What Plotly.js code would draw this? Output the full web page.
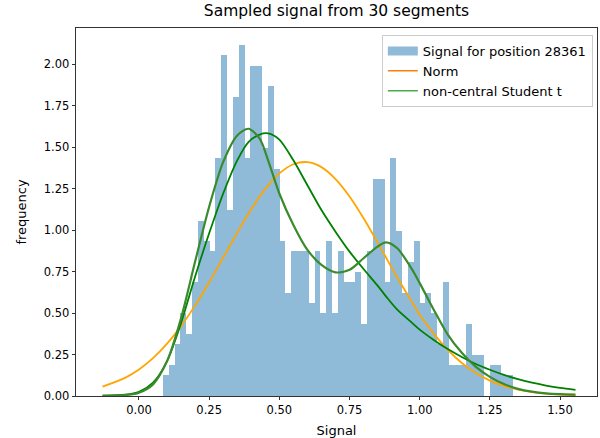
<!DOCTYPE html>
<html>
<head>
<meta charset="utf-8">
<script src="https://cdn.plot.ly/plotly-3.0.1.min.js"></script>
<style>html,body{margin:0;padding:0;background:#fff;}#chart{width:600px;height:438px;}</style>
</head>
<body>
<div id="chart"></div>
<script>
// Histogram: 60 bins (density values)
const binStart = 0.0855;
const binWidth = 0.02078;
const histHeights = [
  0.124, 0.187, 0.311, 0.498, 0.373, 0.684, 1.057, 0.933, 0.871, 1.431,
  2.053, 1.120, 1.804, 2.115, 1.431, 1.990, 1.990, 1.493, 1.866, 1.368,
  0.933, 0.622, 0.871, 0.871, 0.871, 0.560, 0.871, 0.498, 0.933, 0.498,
  0.871, 0.684, 0.684, 0.746, 0.435, 0.871, 1.306, 1.306, 0.684, 1.431,
  0.995, 0.622, 0.809, 0.933, 0.560, 0.622, 0.498, 0.311, 0.684, 0.187,
  0.187, 0.187, 0.435, 0.249, 0.249, 0.000, 0.187, 0.187, 0.124, 0.124
];

// Fitted curves sampled on a common x grid
const curveX = [-0.13, -0.05, 0.00, 0.05, 0.10, 0.15, 0.20, 0.25, 0.30, 0.35, 0.39, 0.43,
  0.46, 0.50, 0.55, 0.60, 0.65, 0.70, 0.75, 0.80, 0.85, 0.88, 0.92, 0.97, 1.00, 1.05,
  1.10, 1.15, 1.20, 1.25, 1.30, 1.35, 1.40, 1.45, 1.50, 1.555];
const normY = [0.056, 0.109, 0.160, 0.228, 0.315, 0.421, 0.546, 0.685, 0.834, 0.984, 1.098, 1.202,
  1.269, 1.341, 1.396, 1.409, 1.379, 1.307, 1.202, 1.071, 0.925, 0.834, 0.714, 0.573, 0.490, 0.376,
  0.278, 0.199, 0.138, 0.093, 0.061, 0.038, 0.024, 0.014, 0.008, 0.004];
const nctY = [0.002, 0.008, 0.025, 0.080, 0.210, 0.440, 0.720, 0.980, 1.220, 1.420, 1.530, 1.575,
  1.582, 1.545, 1.420, 1.270, 1.120, 0.990, 0.870, 0.765, 0.665, 0.600, 0.520, 0.445, 0.400, 0.338,
  0.283, 0.235, 0.193, 0.158, 0.127, 0.101, 0.080, 0.063, 0.049, 0.037];
const mixY = [0.001, 0.005, 0.020, 0.070, 0.210, 0.470, 0.810, 1.140, 1.410, 1.570, 1.610, 1.550,
  1.420, 1.220, 1.030, 0.880, 0.790, 0.745, 0.760, 0.830, 0.900, 0.925, 0.890, 0.770, 0.680, 0.520,
  0.370, 0.260, 0.175, 0.115, 0.072, 0.043, 0.026, 0.016, 0.011, 0.008];

const legendLabels = ['Signal for position 28361', 'Norm', 'non-central Student t'];
const xTicks = [0.00, 0.25, 0.50, 0.75, 1.00, 1.25, 1.50];
const yTicks = [0.00, 0.25, 0.50, 0.75, 1.00, 1.25, 1.50, 1.75, 2.00];

const binCenters = histHeights.map((_, i) => binStart + binWidth * (i + 0.5));
const FF = 'DejaVu Sans, sans-serif';

const traces = [
  {type: 'bar', x: binCenters, y: histHeights, width: binWidth,
   marker: {color: 'rgba(31,119,180,0.5)', line: {width: 0}},
   showlegend: false, hoverinfo: 'skip'},
  {type: 'scatter', mode: 'lines', x: curveX, y: normY,
   line: {color: '#FFA500', width: 1.8, shape: 'spline', smoothing: 0.8},
   showlegend: false, hoverinfo: 'skip'},
  {type: 'scatter', mode: 'lines', x: curveX, y: nctY,
   line: {color: '#008000', width: 1.8, shape: 'spline', smoothing: 0.8},
   showlegend: false, hoverinfo: 'skip'},
  {type: 'scatter', mode: 'lines', x: curveX, y: mixY,
   line: {color: '#3a8b2c', width: 2.2, shape: 'spline', smoothing: 0.8},
   showlegend: false, hoverinfo: 'skip'},
  // legend handles
  {type: 'scatter', mode: 'lines', x: [null], y: [null],
   line: {color: 'rgba(31,119,180,0.5)', width: 9}, name: legendLabels[0]},
  {type: 'scatter', mode: 'lines', x: [null], y: [null],
   line: {color: '#ff7f0e', width: 1.5}, name: legendLabels[1]},
  {type: 'scatter', mode: 'lines', x: [null], y: [null],
   line: {color: '#4caa4c', width: 1.5}, name: legendLabels[2]}
];

const tickFont = {family: FF, size: 11.5, color: '#000'};
const labelFont = {family: FF, size: 13, color: '#000'};
const layout = {
  width: 600, height: 438,
  margin: {l: 76, r: 3, t: 28, b: 42},
  paper_bgcolor: '#fff', plot_bgcolor: '#fff',
  font: tickFont,
  bargap: 0,
  title: {text: 'Sampled signal from 30 segments', font: {family: FF, size: 15.5, color: '#000'},
          x: 0.5, xref: 'paper', xanchor: 'center', y: 1, yref: 'container', yanchor: 'top', pad: {t: 5}},
  xaxis: {range: [-0.2244, 1.6316], tickvals: xTicks, ticktext: xTicks.map(v => v.toFixed(2)),
          ticks: 'outside', ticklen: 3.5, tickwidth: 0.8, tickcolor: '#000',
          showline: true, linecolor: '#000', linewidth: 0.8, mirror: true,
          showgrid: false, zeroline: false, tickfont: tickFont,
          title: {text: 'Signal', font: labelFont, standoff: 9}},
  yaxis: {range: [0, 2.217], tickvals: yTicks, ticktext: yTicks.map(v => v.toFixed(2)),
          ticks: 'outside', ticklen: 3.5, tickwidth: 0.8, tickcolor: '#000',
          showline: true, linecolor: '#000', linewidth: 0.8, mirror: true,
          showgrid: false, zeroline: false, tickfont: tickFont,
          title: {text: 'frequency', font: labelFont, standoff: 14}},
  legend: {x: 0.992, y: 0.981, xanchor: 'right', yanchor: 'top',
           bgcolor: 'rgba(255,255,255,0.8)', bordercolor: '#cccccc', borderwidth: 1,
           font: {family: FF, size: 13, color: '#000'},
           tracegroupgap: 0, itemwidth: 30}
};

Plotly.newPlot('chart', traces, layout, {displayModeBar: false, staticPlot: true});
</script>
</body>
</html>
